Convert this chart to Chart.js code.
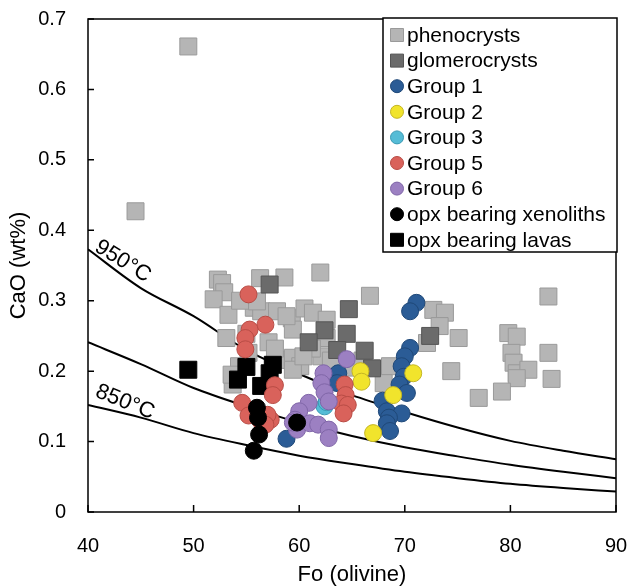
<!DOCTYPE html>
<html>
<head>
<meta charset="utf-8">
<script src="https://cdn.jsdelivr.net/npm/chart.js@4.4.1/dist/chart.umd.min.js"></script>
<style>
    html, body { margin: 0; padding: 0; background: #fff; }
</style>
</head>
<body>
<canvas id="chart" width="629" height="588"></canvas>
<script>
// Fo vs CaO in olivine

const FONT = "'Liberation Sans', Arial, sans-serif";

const xTicks = [40, 50, 60, 70, 80, 90];
const yTicks = [0, 0.1, 0.2, 0.3, 0.4, 0.5, 0.6, 0.7];

// isotherms
const curveFo = [40, 45, 50, 55, 60, 65, 70, 75, 80, 85, 90];
const curve950 = [0.373, 0.318, 0.278, 0.230, 0.196, 0.166, 0.142, 0.120, 0.101, 0.087, 0.075];
const curve900 = [0.241, 0.210, 0.176, 0.150, 0.127, 0.108, 0.092, 0.079, 0.067, 0.057, 0.048];
const curve850 = [0.152, 0.134, 0.112, 0.095, 0.080, 0.068, 0.057, 0.048, 0.040, 0.034, 0.029];

// [Fo, CaO]
const phenocrysts = [
    [49.5, 0.661], [44.5, 0.427],
    [52.3, 0.330], [52.7, 0.325], [52.9, 0.312], [51.9, 0.302], [53.3, 0.280], [56.3, 0.332],
    [58.6, 0.333], [62.0, 0.340], [55.7, 0.290], [56.4, 0.285], [57.9, 0.285], [59.3, 0.275],
    [60.5, 0.289], [61.3, 0.283], [56.0, 0.299], [54.4, 0.300], [53.1, 0.247], [57.1, 0.241],
    [55.2, 0.226], [58.2, 0.216], [59.4, 0.219], [60.1, 0.207], [53.7, 0.181], [54.3, 0.207],
    [53.6, 0.195], [62.6, 0.247], [62.6, 0.273], [59.4, 0.259], [58.8, 0.278], [66.7, 0.307],
    [62.1, 0.221], [61.2, 0.232], [59.4, 0.202], [60.4, 0.221], [57.7, 0.232], [55.0, 0.253],
    [63.0, 0.215], [65.0, 0.205], [66.0, 0.215], [68.6, 0.207], [68.0, 0.183],
    [72.7, 0.287], [73.8, 0.283], [73.3, 0.264], [75.1, 0.247], [72.1, 0.240], [74.4, 0.200],
    [77.0, 0.162], [79.8, 0.254], [80.6, 0.249], [80.1, 0.226], [80.3, 0.212], [80.6, 0.197],
    [81.7, 0.202], [80.6, 0.190], [79.2, 0.171], [83.6, 0.306], [83.6, 0.226], [83.9, 0.189]
];
const glomerocrysts = [
    [57.2, 0.323], [64.7, 0.288], [62.4, 0.258], [64.5, 0.253], [60.9, 0.241],
    [63.6, 0.230], [66.2, 0.229], [72.4, 0.250], [66.9, 0.204]
];
const group1 = [
    [71.1, 0.297], [70.5, 0.285], [70.5, 0.233], [70.0, 0.221], [69.7, 0.207], [69.9, 0.192],
    [69.5, 0.181], [70.2, 0.169], [67.9, 0.158], [68.3, 0.143], [69.7, 0.140], [68.5, 0.134],
    [68.3, 0.126], [68.6, 0.115], [63.7, 0.197], [63.6, 0.183], [58.8, 0.104]
];
const group2 = [[65.8, 0.200], [65.9, 0.185], [70.8, 0.197], [68.9, 0.166], [67.0, 0.112]];
const group3 = [[62.4, 0.150], [62.6, 0.156]];
const group5 = [
    [55.2, 0.309], [56.8, 0.266], [55.3, 0.259], [54.9, 0.247], [54.9, 0.231], [57.7, 0.180],
    [57.5, 0.166], [54.6, 0.155], [55.2, 0.137], [56.3, 0.130], [57.3, 0.131], [57.0, 0.138],
    [56.8, 0.124], [64.3, 0.181], [64.4, 0.166], [64.0, 0.154], [64.6, 0.152], [64.2, 0.140]
];
const group6 = [
    [64.5, 0.217], [62.3, 0.197], [62.1, 0.183], [62.4, 0.170], [62.8, 0.157], [60.9, 0.155],
    [60.0, 0.143], [59.6, 0.131], [59.8, 0.117], [61.0, 0.126], [61.8, 0.124], [62.8, 0.117],
    [62.8, 0.105], [59.4, 0.127]
];
const xenoliths = [[56.0, 0.148], [56.1, 0.134], [56.2, 0.110], [55.7, 0.087], [59.8, 0.127]];
const lavas = [[49.5, 0.202], [55.0, 0.206], [54.2, 0.188], [57.5, 0.209], [57.2, 0.197], [56.4, 0.179]];

function marks(label, list, style, fill, stroke, order) {
    return {
        label: label,
        data: list.map(p => ({ x: p[0], y: p[1] })),
        pointStyle: style,
        pointRadius: style === 'rect' ? 12 : 8.5,
        pointHoverRadius: style === 'rect' ? 12 : 8.5,
        backgroundColor: fill,
        borderColor: stroke,
        borderWidth: 1,
        order: order
    };
}

function isotherm(vals) {
    return {
        type: 'line',
        data: curveFo.map((x, i) => ({ x: x, y: vals[i] })),
        borderColor: '#000',
        borderWidth: 2,
        pointRadius: 0,
        fill: false,
        showLine: true,
        cubicInterpolationMode: 'monotone',
        order: 20
    };
}

// box, inward ticks, isotherm labels and the legend
const frame = {
    id: 'frame',
    afterDraw(chart) {
        const { ctx, chartArea: a, scales: { x, y } } = chart;
        ctx.save();
        ctx.strokeStyle = '#000';
        ctx.lineWidth = 1.5;
        ctx.strokeRect(a.left, a.top, a.right - a.left, a.bottom - a.top);
        ctx.beginPath();
        xTicks.forEach(v => {
            const px = x.getPixelForValue(v);
            ctx.moveTo(px, a.bottom);
            ctx.lineTo(px, a.bottom - 7);
        });
        yTicks.forEach(v => {
            const py = y.getPixelForValue(v);
            ctx.moveTo(a.left, py);
            ctx.lineTo(a.left + 6, py);
        });
        ctx.stroke();

        // isotherm labels
        ctx.fillStyle = '#000';
        ctx.font = '22px ' + FONT;
        ctx.textAlign = 'center';
        ctx.textBaseline = 'middle';
        [{ t: '950°C', fo: 43.3, cao: 0.356, ang: 32 }, { t: '850°C', fo: 43.5, cao: 0.156, ang: 22 }].forEach(l => {
            ctx.save();
            ctx.translate(x.getPixelForValue(l.fo), y.getPixelForValue(l.cao));
            ctx.rotate(l.ang * Math.PI / 180);
            ctx.fillText(l.t, 0, 0);
            ctx.restore();
        });

        // legend
        const items = chart.data.datasets.filter(d => d.label);
        const bx = a.right - 233, by = a.top - 1, bw = 234, bh = 234;
        ctx.fillStyle = '#fff';
        ctx.fillRect(bx, by, bw, bh);
        ctx.lineWidth = 1.5;
        ctx.strokeStyle = '#000';
        ctx.strokeRect(bx, by, bw, bh);
        ctx.textAlign = 'left';
        ctx.font = '21px ' + FONT;
        items.forEach((d, i) => {
            const cy = by + 17 + i * 25.6;
            const cx = bx + 14;
            ctx.fillStyle = d.backgroundColor;
            ctx.strokeStyle = d.borderColor;
            ctx.lineWidth = 1;
            ctx.beginPath();
            if (d.pointStyle === 'rect') {
                ctx.rect(cx - 6.5, cy - 6.5, 13, 13);
            } else {
                ctx.arc(cx, cy, 6.5, 0, Math.PI * 2);
            }
            ctx.fill();
            ctx.stroke();
            ctx.fillStyle = '#000';
            ctx.fillText(d.label, bx + 24, cy + 1);
        });
        ctx.restore();
    }
};

new Chart(document.getElementById('chart'), {
    type: 'scatter',
    data: {
        datasets: [
            marks('phenocrysts', phenocrysts, 'rect', '#b5b5b5', '#9a9a9a', 10),
            marks('glomerocrysts', glomerocrysts, 'rect', '#6b6b6b', '#555555', 9),
            marks('Group 1', group1, 'circle', '#2b5c96', '#1f4878', 7),
            marks('Group 2', group2, 'circle', '#f1e42c', '#c4b625', 6),
            marks('Group 3', group3, 'circle', '#55bcd6', '#3a9ab4', 5),
            marks('Group 5', group5, 'circle', '#d9625b', '#b84c45', 4),
            marks('Group 6', group6, 'circle', '#9c80c2', '#8066a8', 3),
            marks('opx bearing xenoliths', xenoliths, 'circle', '#000000', '#000000', 2),
            marks('opx bearing lavas', lavas, 'rect', '#000000', '#000000', 8),
            isotherm(curve950),
            isotherm(curve900),
            isotherm(curve850)
        ]
    },
    options: {
        responsive: false,
        animation: false,
        layout: { padding: { top: 19, right: 13, left: 0, bottom: 0 } },
        plugins: {
            legend: { display: false },
            tooltip: { enabled: false }
        },
        scales: {
            x: {
                type: 'linear',
                min: xTicks[0],
                max: xTicks[xTicks.length - 1],
                afterBuildTicks: s => { s.ticks = xTicks.map(v => ({ value: v })); },
                afterFit: s => { s.height = 76; s.paddingLeft = 0; s.paddingRight = 0; },
                grid: { display: false, drawTicks: false },
                border: { display: false },
                ticks: { color: '#000', font: { size: 20, family: FONT }, padding: 22 },
                title: {
                    display: true, text: 'Fo (olivine)', color: '#000',
                    font: { size: 22, family: FONT }, padding: { top: 0, bottom: 0 }
                }
            },
            y: {
                type: 'linear',
                min: yTicks[0],
                max: yTicks[yTicks.length - 1],
                afterBuildTicks: s => { s.ticks = yTicks.map(v => ({ value: v })); },
                afterFit: s => { s.width = 88; s.paddingTop = 0; s.paddingBottom = 0; },
                grid: { display: false, drawTicks: false },
                border: { display: false },
                ticks: {
                    color: '#000', font: { size: 20, family: FONT }, padding: 22,
                    callback: v => v === 0 ? '0' : v.toFixed(1)
                },
                title: {
                    display: true, text: 'CaO (wt%)', color: '#000',
                    font: { size: 22, family: FONT }, padding: { top: 6, bottom: 0 }
                }
            }
        }
    },
    plugins: [frame]
});
</script>
</body>
</html>
